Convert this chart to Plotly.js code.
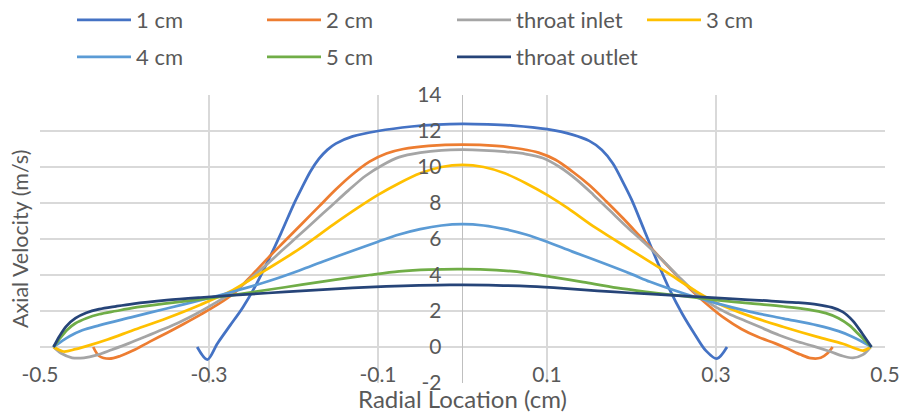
<!DOCTYPE html>
<html>
<head>
<meta charset="utf-8">
<script src="https://cdn.plot.ly/plotly-3.0.1.min.js"></script>
<style>
  html, body { margin: 0; padding: 0; background: #ffffff; }
  #chart { width: 902px; height: 413px; }
</style>
</head>
<body>
<div id="chart"></div>
<script>
// ---- Data ----
const seriesNames = ["1 cm", "2 cm", "throat inlet", "3 cm", "4 cm", "5 cm", "throat outlet"];

const r1cm = [-0.314,-0.302,-0.29,-0.275,-0.26,-0.245,-0.23,-0.215,-0.2,-0.19,-0.18,-0.17,-0.16,-0.15,-0.13,-0.1,-0.06,-0.03,0,0.03,0.06,0.1,0.13,0.15,0.165,0.178,0.19,0.2,0.215,0.23,0.245,0.26,0.275,0.288,0.301,0.313];
const v1cm = [0,-0.7,0.2,1.2,2.2,3.4,4.8,6.3,7.9,8.85,9.75,10.45,10.95,11.3,11.7,12.0,12.25,12.36,12.4,12.37,12.3,12.1,11.8,11.45,10.95,10.2,9.15,8.2,6.5,4.8,3.2,1.85,0.7,-0.2,-0.65,0];

const r2cm = [-0.437,-0.43,-0.418,-0.405,-0.39,-0.37,-0.35,-0.33,-0.31,-0.29,-0.27,-0.25,-0.23,-0.21,-0.19,-0.17,-0.15,-0.13,-0.11,-0.09,-0.07,-0.04,0,0.04,0.07,0.09,0.11,0.13,0.15,0.17,0.19,0.21,0.23,0.25,0.27,0.29,0.31,0.33,0.35,0.37,0.385,0.4,0.412,0.424,0.432,0.438];
const v2cm = [0,-0.5,-0.65,-0.5,-0.2,0.3,0.78,1.28,1.8,2.35,3.0,3.95,4.95,5.9,6.85,7.8,8.75,9.6,10.3,10.75,11.0,11.17,11.24,11.17,11.0,10.8,10.4,9.75,9.0,8.1,7.15,6.15,5.15,4.15,3.2,2.35,1.6,1.0,0.55,0.2,-0.1,-0.42,-0.62,-0.6,-0.35,0];

const rInlet = [-0.484,-0.475,-0.462,-0.448,-0.433,-0.415,-0.395,-0.375,-0.355,-0.335,-0.315,-0.295,-0.275,-0.255,-0.235,-0.215,-0.195,-0.175,-0.155,-0.135,-0.115,-0.095,-0.075,-0.05,-0.025,0,0.025,0.05,0.075,0.095,0.115,0.135,0.155,0.175,0.195,0.215,0.235,0.255,0.275,0.295,0.315,0.335,0.355,0.375,0.395,0.415,0.435,0.45,0.462,0.474,0.483];
const vInlet = [0,-0.35,-0.6,-0.6,-0.45,-0.15,0.2,0.58,0.97,1.38,1.85,2.38,2.95,3.65,4.45,5.3,6.15,7.0,7.85,8.7,9.5,10.1,10.55,10.8,10.93,10.96,10.93,10.85,10.72,10.5,10.0,9.3,8.45,7.55,6.65,5.8,4.9,3.95,3.05,2.35,1.85,1.45,1.05,0.65,0.32,0.05,-0.25,-0.5,-0.6,-0.42,0];

const r3cm = [-0.484,-0.472,-0.458,-0.44,-0.42,-0.39,-0.35,-0.31,-0.272,-0.233,-0.193,-0.153,-0.125,-0.1,-0.075,-0.05,-0.025,0,0.025,0.05,0.075,0.1,0.125,0.155,0.199,0.24,0.278,0.301,0.341,0.38,0.42,0.45,0.465,0.474,0.483];
const v3cm = [0,-0.25,-0.12,0.12,0.42,0.93,1.6,2.35,3.16,4.27,5.45,6.8,7.7,8.45,9.1,9.65,10.0,10.12,10.0,9.65,9.1,8.45,7.7,6.7,5.4,4.2,3.05,2.45,1.7,1.11,0.56,0.18,-0.08,-0.2,0];

const r4cm = [-0.484,-0.475,-0.465,-0.45,-0.43,-0.39,-0.35,-0.31,-0.27,-0.23,-0.193,-0.165,-0.13,-0.1,-0.075,-0.05,-0.025,0,0.025,0.05,0.075,0.1,0.13,0.167,0.2,0.222,0.262,0.301,0.341,0.38,0.42,0.445,0.46,0.472,0.484];
const v4cm = [0,0.3,0.6,0.93,1.2,1.67,2.14,2.6,3.1,3.65,4.25,4.75,5.35,5.85,6.25,6.55,6.75,6.82,6.75,6.55,6.25,5.85,5.3,4.65,4.05,3.62,2.97,2.42,1.95,1.58,1.2,0.88,0.6,0.32,0];

const r5cm = [-0.484,-0.476,-0.468,-0.458,-0.445,-0.43,-0.41,-0.39,-0.35,-0.31,-0.27,-0.23,-0.19,-0.15,-0.11,-0.075,-0.04,0,0.04,0.075,0.105,0.143,0.183,0.222,0.262,0.301,0.341,0.38,0.41,0.43,0.445,0.458,0.47,0.484];
const v5cm = [0,0.5,0.95,1.32,1.6,1.82,2.0,2.17,2.42,2.65,2.9,3.18,3.46,3.74,4.0,4.2,4.3,4.33,4.27,4.12,3.9,3.6,3.28,3.04,2.82,2.61,2.42,2.25,2.08,1.88,1.6,1.2,0.65,0];

const rOutlet = [-0.484,-0.477,-0.469,-0.458,-0.445,-0.43,-0.41,-0.39,-0.35,-0.31,-0.27,-0.23,-0.19,-0.15,-0.11,-0.07,-0.03,0,0.04,0.08,0.12,0.16,0.2,0.24,0.28,0.32,0.36,0.395,0.42,0.437,0.45,0.462,0.473,0.484];
const vOutlet = [0,0.6,1.15,1.6,1.9,2.1,2.26,2.4,2.6,2.75,2.88,3.0,3.12,3.23,3.33,3.4,3.44,3.45,3.43,3.37,3.26,3.12,3.0,2.9,2.78,2.67,2.57,2.47,2.36,2.2,1.95,1.45,0.75,0];

const xTickVals = [-0.5, -0.3, -0.1, 0.1, 0.3, 0.5];
const xTickText = ["-0.5", "-0.3", "-0.1", "0.1", "0.3", "0.5"];
const yTickVals = [-2, 0, 2, 4, 6, 8, 10, 12, 14];
const yTickText = ["-2", "0", "2", "4", "6", "8", "10", "12", "14"];

const xTitle = "Radial Location (cm)";
const yTitle = "Axial Velocity (m/s)";

// ---- Styling ----
const colors = ["#4472C4", "#ED7D31", "#A5A5A5", "#FFC000", "#5B9BD5", "#70AD47", "#264478"];
const xs = [r1cm, r2cm, rInlet, r3cm, r4cm, r5cm, rOutlet];
const ys = [v1cm, v2cm, vInlet, v3cm, v4cm, v5cm, vOutlet];
const legendOf = ["legend", "legend", "legend", "legend", "legend2", "legend2", "legend2"];

const FONT = "Lato, 'Open Sans', sans-serif";
const TXT = "#595959";

const traces = seriesNames.map((name, i) => ({
  type: "scatter",
  mode: "lines",
  name: name,
  x: xs[i],
  y: ys[i],
  line: { color: colors[i], width: 2.75, shape: "spline", smoothing: 0.9 },
  legend: legendOf[i],
  hoverinfo: "skip"
}));

const legendCommon = {
  orientation: "h",
  xref: "container", yref: "container",
  xanchor: "left", yanchor: "middle",
  itemwidth: 54,
  entrywidth: 121, entrywidthmode: "pixels",
  font: { family: FONT, size: 22, color: TXT },
  bgcolor: "rgba(0,0,0,0)",
  borderwidth: 0,
  traceorder: "normal"
};

const layout = {
  width: 902,
  height: 413,
  margin: { l: 40, r: 17, t: 95, b: 30, pad: 0 },
  paper_bgcolor: "#ffffff",
  plot_bgcolor: "#ffffff",
  font: { family: FONT, color: TXT, size: 21 },
  showlegend: true,
  xaxis: {
    range: [-0.5, 0.5],
    tickmode: "array",
    tickvals: xTickVals,
    ticktext: xTickText,
    showgrid: true,
    gridcolor: "#d9d9d9",
    gridwidth: 1.3,
    zeroline: true,
    zerolinecolor: "#bfbfbf",
    zerolinewidth: 1.6,
    showline: false,
    ticks: "",
    ticklabelposition: "inside",
    ticklabeloverflow: "allow",
    ticklabelstandoff: -6,
    tickfont: { family: FONT, size: 21, color: TXT },
    title: { text: xTitle, font: { family: FONT, size: 24, color: TXT }, standoff: 21 },
    automargin: false,
    fixedrange: true
  },
  yaxis: {
    range: [-2, 14],
    anchor: "free",
    position: 0.5,
    side: "left",
    tickmode: "array",
    tickvals: yTickVals,
    ticktext: yTickText,
    showgrid: true,
    gridcolor: "#d9d9d9",
    gridwidth: 1.3,
    zeroline: false,
    showline: false,
    ticks: "",
    ticklabelstandoff: 21,
    tickfont: { family: FONT, size: 21, color: TXT },
    automargin: false,
    fixedrange: true
  },
  annotations: [{
    text: yTitle,
    xref: "paper", yref: "paper",
    x: (20 - 40) / 845, y: 0.5,
    xanchor: "center", yanchor: "middle",
    textangle: -90,
    showarrow: false,
    font: { family: FONT, size: 21.5, color: TXT }
  }],
  legend: Object.assign({}, legendCommon, { x: 72 / 902, y: 1 - 20 / 413 }),
  legend2: Object.assign({}, legendCommon, { x: 72 / 902, y: 1 - 57 / 413 })
};

Plotly.newPlot("chart", traces, layout, { displayModeBar: false, staticPlot: true });
</script>
</body>
</html>
